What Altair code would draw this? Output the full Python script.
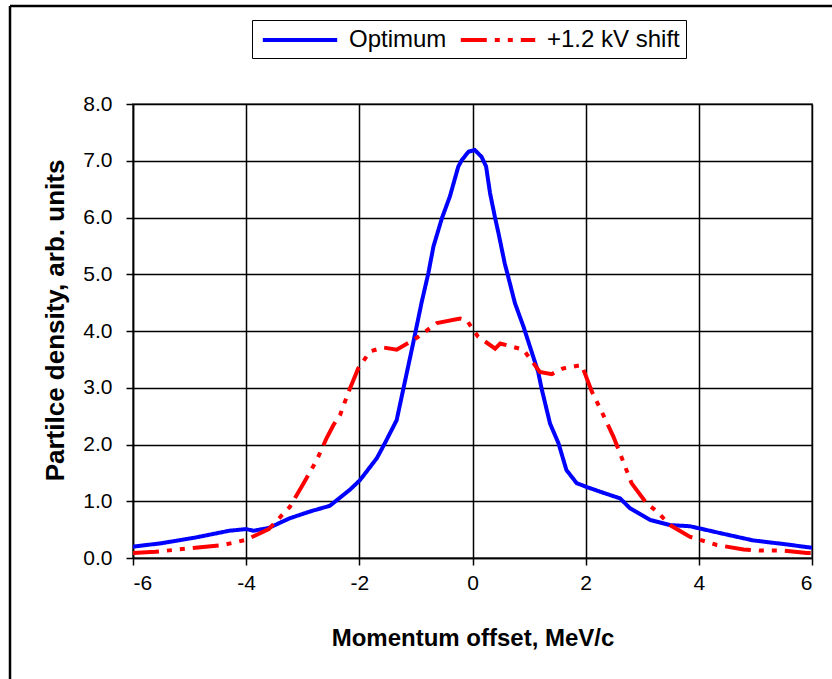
import altair as alt
import pandas as pd

# Optimum curve
opt_x = [-6.0, -5.5, -4.9, -4.3, -4.0, -3.87, -3.6, -3.23, -2.87, -2.52, -2.17, -1.99, -1.69, -1.55,
         -1.34, -1.22, -1.05, -0.90, -0.78, -0.69, -0.54, -0.40, -0.25, -0.19, -0.07, 0.04, 0.16,
         0.24, 0.31, 0.40, 0.46, 0.57, 0.63, 0.75, 0.90, 1.16, 1.22, 1.37, 1.52, 1.66, 1.84, 2.02,
         2.31, 2.61, 2.78, 3.14, 3.49, 3.84, 4.02, 4.37, 4.96, 5.55, 5.85, 6.0]
opt_y = [0.20, 0.26, 0.36, 0.48, 0.51, 0.48, 0.53, 0.70, 0.82, 0.92, 1.20, 1.37, 1.76, 2.02,
         2.43, 2.99, 3.78, 4.50, 5.02, 5.49, 5.99, 6.37, 6.90, 7.01, 7.16, 7.19, 7.07,
         6.90, 6.43, 5.99, 5.72, 5.19, 4.96, 4.49, 4.08, 3.28, 2.99, 2.37, 2.02, 1.55, 1.32, 1.25,
         1.15, 1.05, 0.88, 0.67, 0.58, 0.56, 0.52, 0.44, 0.31, 0.24, 0.20, 0.18]

# +1.2 kV shift curve
sh_x = [-6.0, -5.6, -5.0, -4.4, -4.0, -3.6, -3.23, -3.0, -2.75, -2.58, -2.46, -2.34, -2.19, -2.02,
        -1.81, -1.58, -1.34, -1.0, -0.63, -0.22, -0.10, 0.01, 0.10, 0.40, 0.49, 0.90, 1.19, 1.40,
        1.60, 1.93, 2.11, 2.31, 2.49, 2.64, 2.81, 3.08, 3.26, 3.49, 3.84, 4.32, 4.79, 5.08, 5.49,
        5.91, 6.0]
sh_y = [0.09, 0.11, 0.17, 0.23, 0.32, 0.51, 0.90, 1.29, 1.73, 2.11, 2.34, 2.52, 2.93, 3.34,
        3.64, 3.71, 3.67, 3.87, 4.14, 4.22, 4.19, 4.02, 3.90, 3.69, 3.78, 3.67, 3.28, 3.24,
        3.34, 3.40, 2.93, 2.52, 2.14, 1.76, 1.32, 0.96, 0.82, 0.58, 0.375, 0.23, 0.15, 0.13, 0.13,
        0.09, 0.09]

series_names = ["Optimum", "+1.2 kV shift"]
x_ticks = [-6, -4, -2, 0, 2, 4, 6]
y_ticks = [0, 1, 2, 3, 4, 5, 6, 7, 8]

df = pd.concat([
    pd.DataFrame({"x": opt_x, "y": opt_y, "series": series_names[0], "order": range(len(opt_x))}),
    pd.DataFrame({"x": sh_x, "y": sh_y, "series": series_names[1], "order": range(len(sh_x))}),
])

FONT = "Liberation Sans"

legend_cfg = dict(title=None, orient="none", legendX=119, legendY=-84,
                  direction="horizontal", symbolType="M-3.1,0H3.1",
                  symbolSize=576, symbolStrokeWidth=4, symbolOffset=28,
                  labelFont=FONT, labelFontSize=24, labelColor="black",
                  labelOffset=35, columnPadding=5,
                  strokeColor="black", padding=6)

lines = alt.Chart(df).mark_line(strokeWidth=4, clip=True).encode(
    x=alt.X("x:Q", scale=alt.Scale(domain=[-6, 6], nice=False),
            axis=alt.Axis(values=x_ticks, title="Momentum offset, MeV/c",
                          labelExpr="'' + datum.value",
                          labelPadding=7, titlePadding=33, titleFontSize=24)),
    y=alt.Y("y:Q", scale=alt.Scale(domain=[0, 8], nice=False),
            axis=alt.Axis(values=y_ticks, title="Partilce density, arb. units", format=".1f",
                          labelPadding=14, titlePadding=14, titleFontSize=26, titleY=216)),
    color=alt.Color("series:N", scale=alt.Scale(domain=series_names, range=["#0000FF", "#FF0000"]),
                    legend=alt.Legend(**legend_cfg)),
    strokeDash=alt.StrokeDash("series:N",
                              scale=alt.Scale(domain=series_names, range=[[1, 0], [26, 8, 5, 8, 5, 8]]),
                              legend=alt.Legend(**legend_cfg)),
    order="order:Q",
)

frame_df = pd.DataFrame({"k": [0]})
frame_v = alt.Chart(frame_df).mark_rule(color="black", strokeWidth=2.5, clip=False).encode(
    x=alt.value(-123), y=alt.value(-98), y2=alt.value(700))
frame_h = alt.Chart(frame_df).mark_rule(color="black", strokeWidth=2.5, clip=False).encode(
    x=alt.value(-123), x2=alt.value(800), y=alt.value(-98))

chart = alt.layer(lines, frame_v, frame_h).properties(
    width=679, height=454,
    autosize=alt.AutoSizeParams(type="none"),
    padding={"left": 133, "top": 104, "right": 20, "bottom": 121},
    background="white",
).configure_view(
    stroke="#808080", strokeWidth=2
).configure_axis(
    labelFont=FONT, titleFont=FONT, labelFontSize=21, titleFontSize=23,
    titleFontWeight="bold", labelColor="black", titleColor="black",
    domainColor="black", domainWidth=1.5, tickColor="black", tickWidth=1.5, tickSize=7,
    gridColor="black", gridOpacity=1, gridWidth=1.5, grid=True,
)

chart.save("out.html", embed_options={"renderer": "svg", "actions": False})
